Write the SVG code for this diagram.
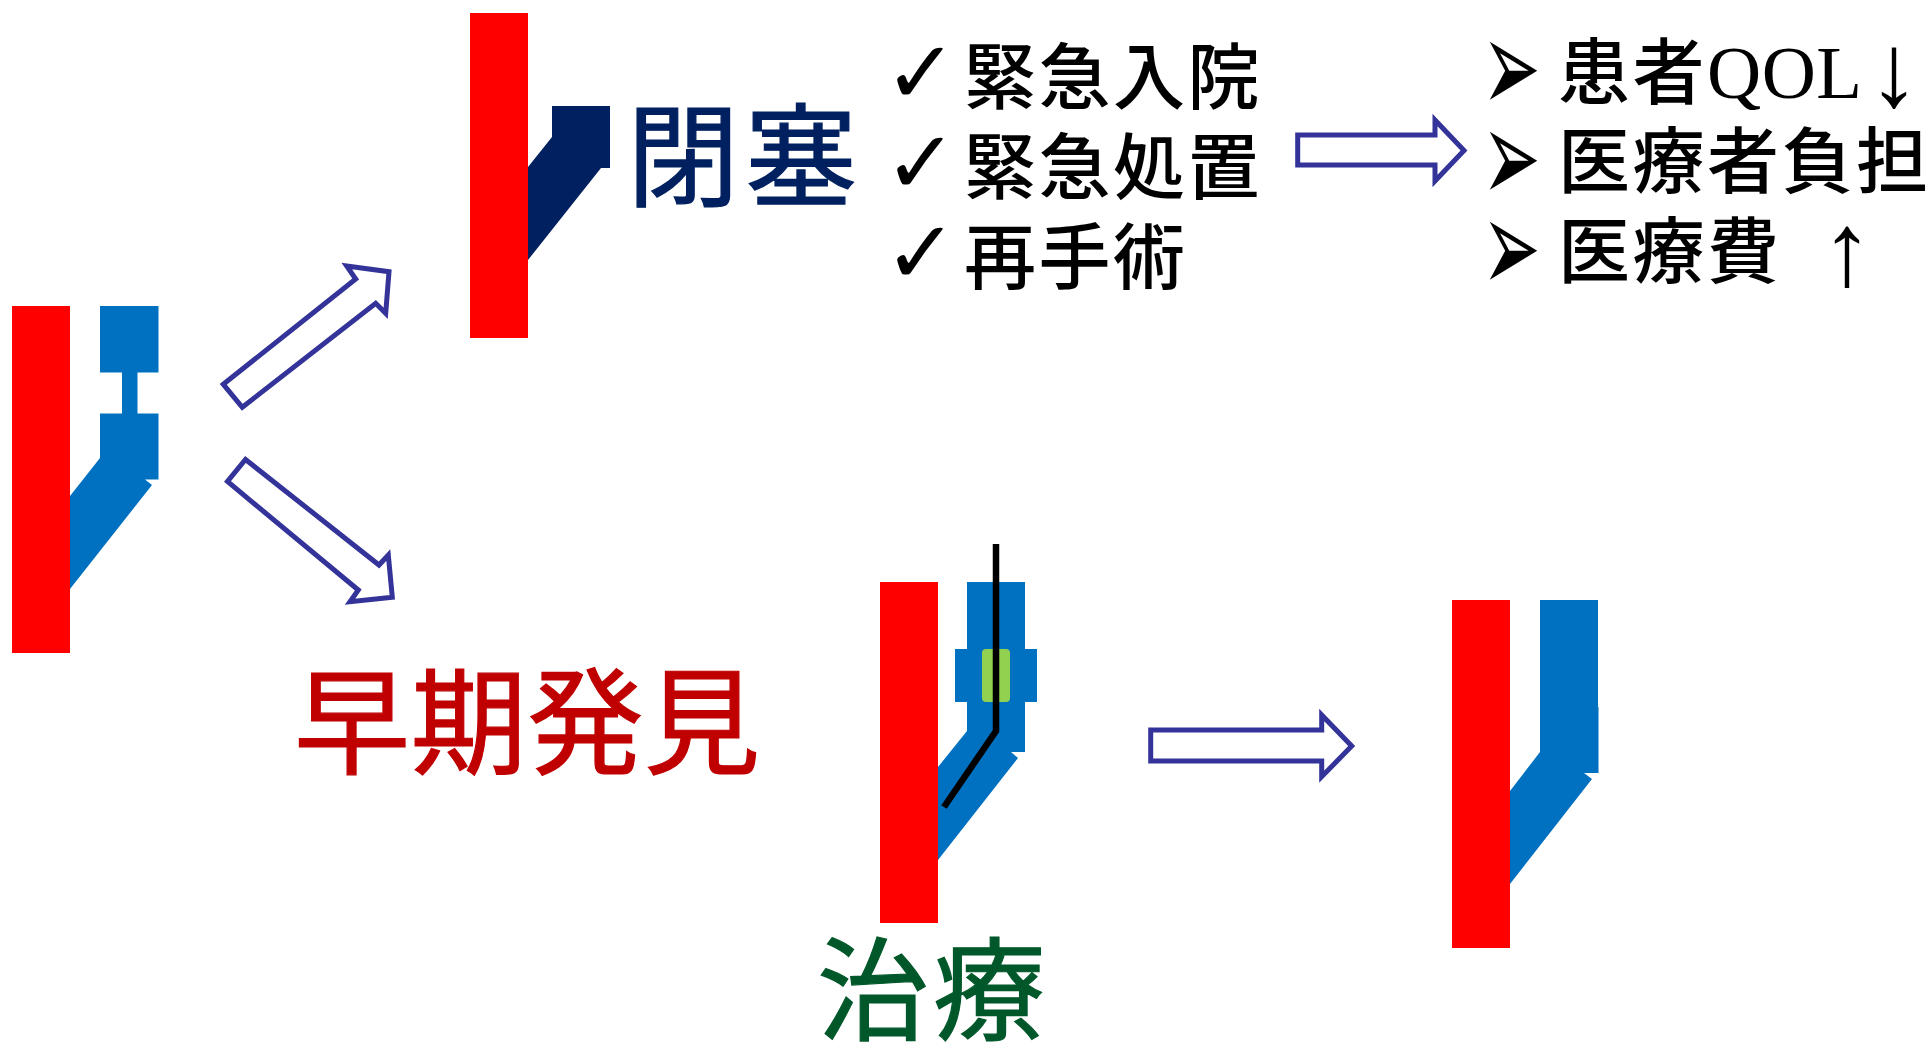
<svg xmlns="http://www.w3.org/2000/svg" width="1925" height="1042" viewBox="0 0 1925 1042">
<style>
.jp{font-family:"Noto Sans CJK JP","Noto Sans",sans-serif}
.list{font-size:72px;font-weight:500;fill:#000;letter-spacing:2.500px}
.head{font-size:112px;font-weight:400;stroke-width:1.200}
.latin{font-family:"Liberation Serif",serif;font-size:75px;fill:#000;letter-spacing:.500px}
.updown{font-family:"Liberation Serif",serif;font-size:104px;fill:#000}
.check{font-family:"DejaVu Sans",sans-serif;font-size:88px;fill:#000}
.point{font-family:"DejaVu Sans",sans-serif;font-size:56px;fill:#000}
.artery{fill:#f00}
.vessel{fill:#0070c0}
.flow{fill:#fff;stroke:#333399;stroke-width:5}
</style>
<rect width="1925" height="1042" fill="#fff"/>

<g id="graft-stenosis">
<path class="vessel" d="M100 306H158.500V372.500H137.500V413.500H158.500V479.500H145L152 485L70 589V496L100 458V413.500H122V372.500H100Z"/>
<rect class="artery" x="12" y="306" width="58" height="347"/>
</g>

<g id="graft-occluded">
<path fill="#002060" d="M552 106H610V168H601L528 260V167L552 137Z"/>
<rect class="artery" x="470" y="13" width="58" height="325"/>
<text class="jp head" x="627" y="198" fill="#002060" stroke="#002060" style="letter-spacing:6px">閉塞</text>
</g>

<g id="emergency-list">
<text class="check" x="884" y="103">✓</text>
<text class="check" x="884" y="193">✓</text>
<text class="check" x="884" y="283">✓</text>
<text class="jp list" x="964" y="103">緊急入院</text>
<text class="jp list" x="964" y="193">緊急処置</text>
<text class="jp list" x="964" y="283">再手術</text>
</g>

<g id="burden-list">
<text class="point" transform="translate(1482 112) scale(1.250 2.350)">➢</text>
<text class="point" transform="translate(1482 202) scale(1.250 2.350)">➢</text>
<text class="point" transform="translate(1482 292) scale(1.250 2.350)">➢</text>
<text class="jp list" x="1558" y="98">患者<tspan class="latin">QOL</tspan></text>
<text class="updown" x="1868" y="106">↓</text>
<text class="jp list" x="1558" y="187">医療者負担</text>
<text class="jp list" x="1558" y="277">医療費</text>
<text class="updown" x="1821" y="285">↑</text>
</g>

<g id="early-detection">
<text class="jp head" x="294" y="765" fill="#c00000" stroke="#c00000" style="font-size:116px;letter-spacing:.700px">早期発見</text>
</g>

<g id="graft-treatment">
<path class="vessel" d="M967 582H1025V649H1037V702H1025V752H1011L1018 758L938 860V767L967 731V702H955V649H967Z"/>
<rect class="artery" x="880" y="582" width="58" height="341"/>
<rect x="982" y="649" width="28" height="53" rx="4" fill="#92d050"/>
<path d="M996 544V731L944 807" fill="none" stroke="#000" stroke-width="6.500"/>
<text class="jp head" x="817" y="1032" fill="#00582a" stroke="#00582a" style="letter-spacing:4px">治療</text>
</g>

<g id="graft-repaired">
<path class="vessel" d="M1540 600H1598V707H1598.500V773H1584L1592 779L1510 884V791L1540 752Z"/>
<rect class="artery" x="1452" y="600" width="58" height="348"/>
</g>

<g id="connectors">
<path class="flow" d="M223.300 384.300L355.700 279L346.700 266L389 271.700L385.700 313.300L375.700 303.300L242.300 407.300Z"/>
<path class="flow" d="M245.500 459.500L379 565L388.300 555L392.300 597.300L350 601.700L358.300 590L227.500 481.500Z"/>
<path class="flow" d="M1297.700 135H1435V120L1464 150.500L1435 181V165H1297.700Z"/>
<path class="flow" d="M1150.700 730H1321.700V715L1351.700 746L1321.700 776.700V761H1150.700Z"/>
</g>
</svg>
